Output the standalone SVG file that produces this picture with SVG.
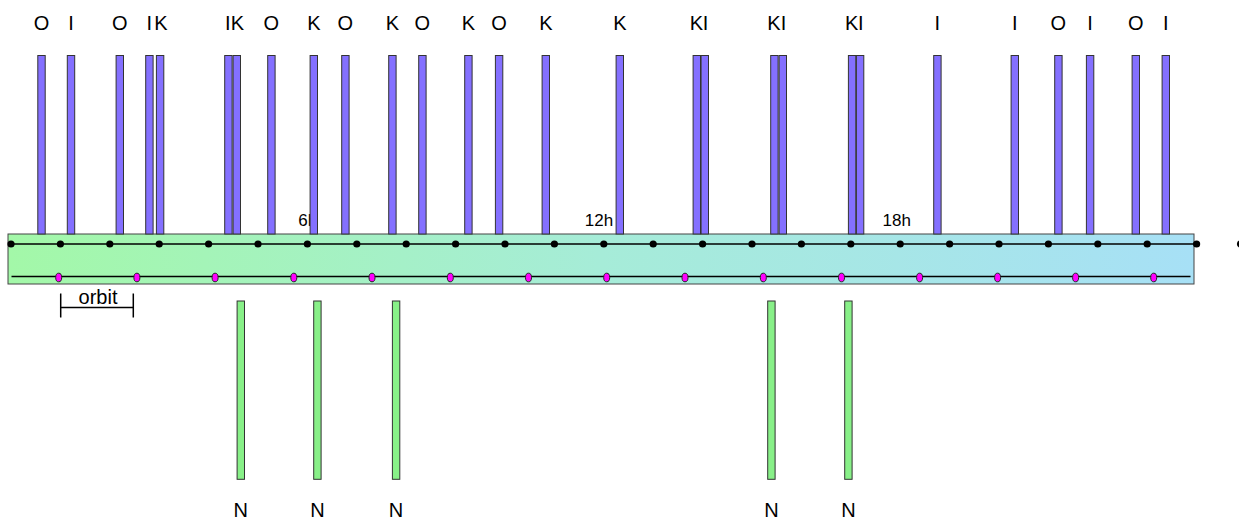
<svg xmlns="http://www.w3.org/2000/svg" width="1239" height="520" viewBox="0 0 1239 520">
<defs>
<linearGradient id="bandGrad" x1="0" y1="0" x2="1" y2="0">
<stop offset="0" stop-color="#a3f8a8"/>
<stop offset="0.5" stop-color="#a6ecd8"/>
<stop offset="1" stop-color="#a7e0f6"/>
</linearGradient>
<style>
text{font-family:"Liberation Sans",Arial,sans-serif;fill:#000}
.lbl{font-size:20px;text-anchor:middle}
.hr{font-size:17px}
.bar{fill:#8470ff;stroke:#333;stroke-width:1}
.nbar{fill:#88f088;stroke:#333;stroke-width:1}
.ln{stroke:#000;stroke-width:1.5;fill:none}
.dot{fill:#000}
.mdot{fill:#ff00ff;stroke:#222;stroke-width:1}
</style>
</defs>
<rect id="band" x="8" y="234" width="1186" height="50" fill="url(#bandGrad)" stroke="#444" stroke-width="1"/>
<g id="connectors">
<line class="ln" x1="11" y1="244" x2="1196.6" y2="244"/>
<line class="ln" x1="11.5" y1="276.5" x2="1190.5" y2="276.5"/>
<path class="ln" d="M60.7 293.5V317.5M133.3 293.5V317.5M60.7 307.5H133.3"/>
</g>
<g id="hourDots">
<circle class="dot" cx="11" cy="244" r="3.6"/><circle class="dot" cx="60.4" cy="244" r="3.6"/><circle class="dot" cx="109.8" cy="244" r="3.6"/><circle class="dot" cx="159.2" cy="244" r="3.6"/><circle class="dot" cx="208.6" cy="244" r="3.6"/><circle class="dot" cx="258" cy="244" r="3.6"/><circle class="dot" cx="307.4" cy="244" r="3.6"/><circle class="dot" cx="356.8" cy="244" r="3.6"/><circle class="dot" cx="406.2" cy="244" r="3.6"/><circle class="dot" cx="455.6" cy="244" r="3.6"/><circle class="dot" cx="505" cy="244" r="3.6"/><circle class="dot" cx="554.4" cy="244" r="3.6"/><circle class="dot" cx="603.8" cy="244" r="3.6"/><circle class="dot" cx="653.2" cy="244" r="3.6"/><circle class="dot" cx="702.6" cy="244" r="3.6"/><circle class="dot" cx="752" cy="244" r="3.6"/><circle class="dot" cx="801.4" cy="244" r="3.6"/><circle class="dot" cx="850.8" cy="244" r="3.6"/><circle class="dot" cx="900.2" cy="244" r="3.6"/><circle class="dot" cx="949.6" cy="244" r="3.6"/><circle class="dot" cx="999" cy="244" r="3.6"/><circle class="dot" cx="1048.4" cy="244" r="3.6"/><circle class="dot" cx="1097.8" cy="244" r="3.6"/><circle class="dot" cx="1147.2" cy="244" r="3.6"/><circle class="dot" cx="1196.6" cy="244" r="3.6"/><circle class="dot" cx="1240.5" cy="244" r="3.6"/>
</g>
<g id="orbitDots">
<ellipse class="mdot" cx="58.7" cy="277.5" rx="3" ry="4.3"/><ellipse class="mdot" cx="136.9" cy="277.5" rx="3" ry="4.3"/><ellipse class="mdot" cx="215.1" cy="277.5" rx="3" ry="4.3"/><ellipse class="mdot" cx="293.8" cy="277.5" rx="3" ry="4.3"/><ellipse class="mdot" cx="372" cy="277.5" rx="3" ry="4.3"/><ellipse class="mdot" cx="450.3" cy="277.5" rx="3" ry="4.3"/><ellipse class="mdot" cx="528.5" cy="277.5" rx="3" ry="4.3"/><ellipse class="mdot" cx="606.7" cy="277.5" rx="3" ry="4.3"/><ellipse class="mdot" cx="685" cy="277.5" rx="3" ry="4.3"/><ellipse class="mdot" cx="763.3" cy="277.5" rx="3" ry="4.3"/><ellipse class="mdot" cx="841.5" cy="277.5" rx="3" ry="4.3"/><ellipse class="mdot" cx="919.6" cy="277.5" rx="3" ry="4.3"/><ellipse class="mdot" cx="997.6" cy="277.5" rx="3" ry="4.3"/><ellipse class="mdot" cx="1075.6" cy="277.5" rx="3" ry="4.3"/><ellipse class="mdot" cx="1153.7" cy="277.5" rx="3" ry="4.3"/>
</g>
<g id="hourLabels">
<text class="hr" x="298.3" y="226">6h</text>
<text class="hr" x="584.8" y="226">12h</text>
<text class="hr" x="882.5" y="226">18h</text>
</g>
<text id="orbitLabel" x="98" y="304" font-size="20" text-anchor="middle">orbit</text>
<g id="b1"><rect class="bar" x="37.8" y="55.5" width="7.4" height="178.5"/><text class="lbl" x="41.5" y="29.5">O</text></g>
<g id="b2"><rect class="bar" x="67.3" y="55.5" width="7.4" height="178.5"/><text class="lbl" x="71" y="29.5">I</text></g>
<g id="b3"><rect class="bar" x="116.1" y="55.5" width="7.4" height="178.5"/><text class="lbl" x="119.8" y="29.5">O</text></g>
<g id="b4"><rect class="bar" x="145.7" y="55.5" width="7.4" height="178.5"/><text class="lbl" x="149.4" y="29.5">I</text></g>
<g id="b5"><rect class="bar" x="156.4" y="55.5" width="7.4" height="178.5"/><text class="lbl" x="161" y="29.5">K</text></g>
<g id="b6"><rect class="bar" x="224.7" y="55.5" width="7.4" height="178.5"/><text class="lbl" x="227.8" y="29.5">I</text></g>
<g id="b7"><rect class="bar" x="233.1" y="55.5" width="7.4" height="178.5"/><text class="lbl" x="237.5" y="29.5">K</text></g>
<g id="b8"><rect class="bar" x="267.7" y="55.5" width="7.4" height="178.5"/><text class="lbl" x="271.4" y="29.5">O</text></g>
<g id="b9"><rect class="bar" x="310.1" y="55.5" width="7.4" height="178.5"/><text class="lbl" x="313.8" y="29.5">K</text></g>
<g id="b10"><rect class="bar" x="341.7" y="55.5" width="7.4" height="178.5"/><text class="lbl" x="345.4" y="29.5">O</text></g>
<g id="b11"><rect class="bar" x="388.7" y="55.5" width="7.4" height="178.5"/><text class="lbl" x="392.4" y="29.5">K</text></g>
<g id="b12"><rect class="bar" x="418.7" y="55.5" width="7.4" height="178.5"/><text class="lbl" x="422.4" y="29.5">O</text></g>
<g id="b13"><rect class="bar" x="464.7" y="55.5" width="7.4" height="178.5"/><text class="lbl" x="468.4" y="29.5">K</text></g>
<g id="b14"><rect class="bar" x="495.4" y="55.5" width="7.4" height="178.5"/><text class="lbl" x="499.1" y="29.5">O</text></g>
<g id="b15"><rect class="bar" x="542.1" y="55.5" width="7.4" height="178.5"/><text class="lbl" x="545.8" y="29.5">K</text></g>
<g id="b16"><rect class="bar" x="616.1" y="55.5" width="7.4" height="178.5"/><text class="lbl" x="619.8" y="29.5">K</text></g>
<g id="b17"><rect class="bar" x="693.1" y="55.5" width="7.4" height="178.5"/><text class="lbl" x="696.3" y="29.5">K</text></g>
<g id="b18"><rect class="bar" x="701.1" y="55.5" width="7.4" height="178.5"/><text class="lbl" x="705.6" y="29.5">I</text></g>
<g id="b19"><rect class="bar" x="770.7" y="55.5" width="7.4" height="178.5"/><text class="lbl" x="773.9" y="29.5">K</text></g>
<g id="b20"><rect class="bar" x="779.1" y="55.5" width="7.4" height="178.5"/><text class="lbl" x="783.6" y="29.5">I</text></g>
<g id="b21"><rect class="bar" x="848.4" y="55.5" width="7.4" height="178.5"/><text class="lbl" x="851.6" y="29.5">K</text></g>
<g id="b22"><rect class="bar" x="856.4" y="55.5" width="7.4" height="178.5"/><text class="lbl" x="860.9" y="29.5">I</text></g>
<g id="b23"><rect class="bar" x="933.7" y="55.5" width="7.4" height="178.5"/><text class="lbl" x="937.4" y="29.5">I</text></g>
<g id="b24"><rect class="bar" x="1011.1" y="55.5" width="7.4" height="178.5"/><text class="lbl" x="1014.8" y="29.5">I</text></g>
<g id="b25"><rect class="bar" x="1054.7" y="55.5" width="7.4" height="178.5"/><text class="lbl" x="1058.4" y="29.5">O</text></g>
<g id="b26"><rect class="bar" x="1086.4" y="55.5" width="7.4" height="178.5"/><text class="lbl" x="1090.1" y="29.5">I</text></g>
<g id="b27"><rect class="bar" x="1132.1" y="55.5" width="7.4" height="178.5"/><text class="lbl" x="1135.8" y="29.5">O</text></g>
<g id="b28"><rect class="bar" x="1162.1" y="55.5" width="7.4" height="178.5"/><text class="lbl" x="1165.8" y="29.5">I</text></g>
<g id="n1"><rect class="nbar" x="237.1" y="301" width="7.4" height="178.3"/><text class="lbl" x="240.8" y="516.5">N</text></g>
<g id="n2"><rect class="nbar" x="313.7" y="301" width="7.4" height="178.3"/><text class="lbl" x="317.4" y="516.5">N</text></g>
<g id="n3"><rect class="nbar" x="392.4" y="301" width="7.4" height="178.3"/><text class="lbl" x="396.1" y="516.5">N</text></g>
<g id="n4"><rect class="nbar" x="767.7" y="301" width="7.4" height="178.3"/><text class="lbl" x="771.4" y="516.5">N</text></g>
<g id="n5"><rect class="nbar" x="844.7" y="301" width="7.4" height="178.3"/><text class="lbl" x="848.4" y="516.5">N</text></g>
</svg>
